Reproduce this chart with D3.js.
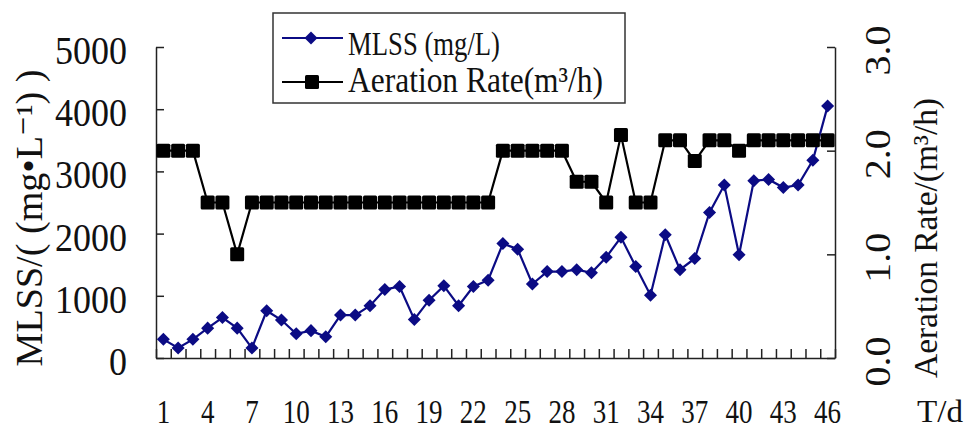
<!DOCTYPE html>
<html>
<head>
<meta charset="utf-8">
<script src="https://cdn.jsdelivr.net/npm/d3@7/dist/d3.min.js"></script>
<style>
  html, body { margin: 0; padding: 0; background: #fff; }
  svg { display: block; }
  text { font-family: "Liberation Serif", "DejaVu Serif", "Noto Sans CJK SC", serif; fill: #111; }
</style>
</head>
<body>
<svg id="chart" width="965" height="432"></svg>
<script>
// ---- data ----
const days = [1,2,3,4,5,6,7,8,9,10,11,12,13,14,15,16,17,18,19,20,21,22,23,24,25,26,27,28,29,30,31,32,33,34,35,36,37,38,39,40,41,42,43,44,45,46];
const mlss = [300,160,300,480,650,480,160,760,610,390,440,340,690,690,840,1100,1150,620,930,1160,840,1150,1250,1840,1750,1190,1390,1390,1420,1370,1620,1940,1470,1010,1980,1420,1600,2340,2780,1660,2850,2870,2740,2780,3180,4050];
const aeration = [2.0,2.0,2.0,1.5,1.5,1.0,1.5,1.5,1.5,1.5,1.5,1.5,1.5,1.5,1.5,1.5,1.5,1.5,1.5,1.5,1.5,1.5,1.5,2.0,2.0,2.0,2.0,2.0,1.7,1.7,1.5,2.15,1.5,1.5,2.1,2.1,1.9,2.1,2.1,2.0,2.1,2.1,2.1,2.1,2.1,2.1];
const xTickLabels = [1,4,7,10,13,16,19,22,25,28,31,34,37,40,43,46];
const leftTicks = [0,1000,2000,3000,4000,5000];
const rightTicks = [0,1,2,3];
const seriesNames = ["MLSS (mg/L)", "Aeration Rate(m\u00B3/h)"];
const leftTitle = "MLSS/( (mg\u2022L\u207B\u00B9) )";
const rightTitle = "Aeration Rate/(m\u00B3/h)";
const xTitle = "T/d";

// ---- layout ----
const svg = d3.select("#chart");
const L = 156, R = 835, T = 47, B = 358;

const x = d3.scaleBand().domain(days).range([L, R]).padding(0);
const xEdge = d3.scaleLinear().domain([0, days.length]).range([L, R]);
const yL = d3.scaleLinear().domain([0, 5000]).range([B, T]);
const yR = d3.scaleLinear().domain([0, 3]).range([B, T]);
const cx = d => x(d) + x.bandwidth() / 2;

svg.append("rect").attr("width", 965).attr("height", 432).attr("fill", "#fff");

// bottom axis ticks (category boundaries)
const gBT = svg.append("g").attr("transform", `translate(0,${B})`)
  .call(d3.axisBottom(xEdge).tickValues(d3.range(0, days.length + 1)).tickSize(-9).tickSizeOuter(0).tickFormat(""));
gBT.selectAll("path,line").attr("stroke", "#222").attr("stroke-width", 1.5);

// bottom labels
const gBL = svg.append("g").attr("transform", `translate(0,${B})`)
  .call(d3.axisBottom(x).tickValues(xTickLabels).tickSize(0).tickPadding(0));
gBL.select(".domain").remove();
gBL.selectAll("text")
  .attr("y", 65).attr("dy", null)
  .attr("font-size", 33)
  .attr("font-family", "Liberation Serif")
  .attr("fill", "#111")
  .attr("textLength", d => String(d).length * 13.5)
  .attr("lengthAdjust", "spacingAndGlyphs");

// left axis
const gL = svg.append("g").attr("transform", `translate(${L},0)`)
  .call(d3.axisLeft(yL).tickValues(leftTicks).tickSize(-8).tickSizeOuter(0).tickPadding(29).tickFormat(d3.format("d")));
gL.selectAll("path,line").attr("stroke", "#222").attr("stroke-width", 1.5);
gL.selectAll("text")
  .attr("dy", 16.5)
  .attr("font-size", 41)
  .attr("font-family", "Liberation Serif")
  .attr("fill", "#111")
  .attr("textLength", d => String(d).length * 18)
  .attr("lengthAdjust", "spacingAndGlyphs");

// right axis
const gR = svg.append("g").attr("transform", `translate(${R},0)`)
  .call(d3.axisRight(yR).tickValues(rightTicks).tickSize(-8).tickSizeOuter(0).tickFormat(d3.format(".1f")));
gR.selectAll("path,line").attr("stroke", "#222").attr("stroke-width", 1.5);
gR.selectAll("text")
  .attr("x", null).attr("dy", null)
  .attr("transform", "translate(55,3) rotate(-90)")
  .attr("text-anchor", "middle")
  .attr("font-size", 35)
  .attr("font-family", "Liberation Serif")
  .attr("fill", "#111")
  .attr("textLength", 50)
  .attr("lengthAdjust", "spacingAndGlyphs");

// left title
svg.append("text")
  .attr("transform", "translate(42,218) rotate(-90)")
  .attr("text-anchor", "middle")
  .attr("font-size", 38)
  .attr("textLength", 297)
  .attr("lengthAdjust", "spacingAndGlyphs")
  .text(leftTitle);

// right title
svg.append("text")
  .attr("transform", "translate(937,238) rotate(-90)")
  .attr("text-anchor", "middle")
  .attr("font-size", 34)
  .attr("textLength", 280)
  .attr("lengthAdjust", "spacingAndGlyphs")
  .text(rightTitle);

// T/d
svg.append("text").attr("x", 917).attr("y", 422)
  .attr("font-size", 31).attr("textLength", 46).attr("lengthAdjust", "spacingAndGlyphs").text(xTitle);

// ---- series ----
const navy = "#0b0b84";
const lineL = d3.line().x((d, i) => cx(days[i])).y(d => yL(d));
const lineR = d3.line().x((d, i) => cx(days[i])).y(d => yR(d));

svg.append("path").datum(mlss).attr("d", lineL)
  .attr("fill", "none").attr("stroke", navy).attr("stroke-width", 2.2);
const dia = d3.symbol().type(d3.symbolSquare).size(85);
svg.append("g").selectAll("path").data(mlss).join("path")
  .attr("d", dia)
  .attr("transform", (d, i) => `translate(${cx(days[i])},${yL(d)}) rotate(45)`)
  .attr("fill", navy);

svg.append("path").datum(aeration).attr("d", lineR)
  .attr("fill", "none").attr("stroke", "#000").attr("stroke-width", 2.2);
svg.append("g").selectAll("rect").data(aeration).join("rect")
  .attr("x", (d, i) => cx(days[i]) - 7)
  .attr("y", d => yR(d) - 7)
  .attr("width", 14).attr("height", 14).attr("rx", 1.5)
  .attr("fill", "#000");

// ---- legend ----
const lg = svg.append("g");
lg.append("rect").attr("x", 273).attr("y", 13).attr("width", 352).attr("height", 90)
  .attr("fill", "#fff").attr("stroke", "#333").attr("stroke-width", 1.5);
lg.append("line").attr("x1", 282).attr("x2", 343).attr("y1", 38).attr("y2", 38)
  .attr("stroke", navy).attr("stroke-width", 2.2);
lg.append("path").attr("d", dia).attr("transform", "translate(311,38) rotate(45)").attr("fill", navy);
lg.append("line").attr("x1", 282).attr("x2", 343).attr("y1", 82).attr("y2", 82)
  .attr("stroke", "#000").attr("stroke-width", 2.2);
lg.append("rect").attr("x", 305).attr("y", 75).attr("width", 14).attr("height", 14).attr("rx", 1.5).attr("fill", "#000");
lg.append("text").attr("x", 348).attr("y", 55).attr("font-size", 34)
  .attr("textLength", 152).attr("lengthAdjust", "spacingAndGlyphs").text(seriesNames[0]);
lg.append("text").attr("x", 348).attr("y", 92).attr("font-size", 36)
  .attr("textLength", 255).attr("lengthAdjust", "spacingAndGlyphs").text(seriesNames[1]);
</script>
</body>
</html>
